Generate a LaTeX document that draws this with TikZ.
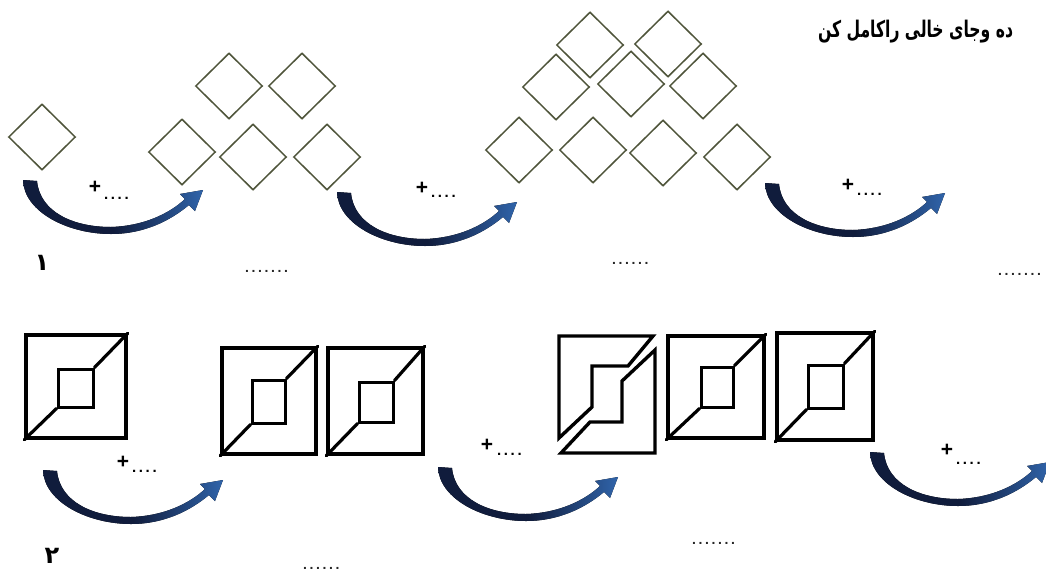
\documentclass[tikz,border=0pt]{standalone}
\usepackage{fontspec}
\setmainfont{Liberation Sans}
\newfontfamily\arabicfont[Script=Arabic]{DejaVu Sans}
\TeXXeTstate=1
\usetikzlibrary{shapes.geometric}
\definecolor{diacol}{RGB}{78,84,58}
\definecolor{navy}{RGB}{16,28,60}
\definecolor{arrblue}{RGB}{48,100,170}
\begin{document}
\begin{tikzpicture}[x=1pt,y=-1pt,
  dia/.style={draw=diacol, line width=1.5pt, shape=diamond, minimum width=67pt, minimum height=66pt, inner sep=0pt},
  osq/.style={draw=black, line width=3.6pt, rectangle, inner sep=0pt},
  isq/.style={draw=black, line width=3pt, rectangle, inner sep=0pt},
  diag/.style={line width=3.2pt, line cap=round},
  piece/.style={draw=black, line width=3.4pt, line join=miter},
  plus/.style={font=\bfseries\fontsize{21}{21}\selectfont, inner sep=0pt},
  dotlab/.style={font=\bfseries\fontsize{15}{15}\selectfont, inner sep=0pt, anchor=base west},
  blank/.style={font=\bfseries\fontsize{14}{14}\selectfont, text=black!85, inner sep=0pt, anchor=base west},
  num/.style={font=\arabicfont\bfseries\fontsize{24}{24}\selectfont, inner sep=0pt},
  carrow/.pic={
    \fill[left color=navy, right color=arrblue, middle color=navy]
      (0,0) .. controls (1,32) and (45,54) .. (88,54)
      .. controls (122,54) and (148,40) .. (166,25)
      -- (172,31) -- (180,10) -- (157,14) -- (162,19)
      .. controls (146,34) and (120,46) .. (88,47)
      .. controls (50,47) and (17,32) .. (14,1) -- cycle;
  }
]
\useasboundingbox (0,0) rectangle (1046,573);
\fill[white] (0,0) rectangle (1046,573);

% title
\node[inner sep=0pt] (title) at (915.5,32) {\resizebox*{195pt}{23pt}{\arabicfont\bfseries\beginR ده وجای خالی راکامل کن\endR}};

% ---------- row 1 : diamonds ----------
\node[dia] (d1a) at (42,137) {};

\node[dia] (d2a) at (182,152) {};
\node[dia] (d2b) at (253,157) {};
\node[dia] (d2c) at (327,157) {};
\node[dia] (d2d) at (229,86) {};
\node[dia] (d2e) at (302,86) {};

\node[dia] (d3a) at (519,150) {};
\node[dia] (d3b) at (593,150) {};
\node[dia] (d3c) at (663,153) {};
\node[dia] (d3d) at (737,157) {};
\node[dia] (d3e) at (556,87) {};
\node[dia] (d3f) at (631,84) {};
\node[dia] (d3g) at (703,86) {};
\node[dia] (d3h) at (590,45) {};
\node[dia] (d3i) at (668,44) {};

% arrows row 1
\pic at (23,180) {carrow};
\pic at (337,192) {carrow};
\pic at (765,183) {carrow};

% labels row 1
\node[plus] (p1) at (95,187) {+};
\node[dotlab] (q1) at (104,199) {.\kern2.6pt.\kern2.6pt.\kern2.6pt.};
\node[plus] (p2) at (422,188) {+};
\node[dotlab] (q2) at (431,197) {.\kern2.6pt.\kern2.6pt.\kern2.6pt.};
\node[plus] (p3) at (848,185) {+};
\node[dotlab] (q3) at (857,195) {.\kern2.6pt.\kern2.6pt.\kern2.6pt.};

\node[num] (n1) at (42,263) {۱};
\node[blank] (b1) at (245,272) {.\kern2.6pt.\kern2.6pt.\kern2.6pt.\kern2.6pt.\kern2.6pt.\kern2.6pt.};
\node[blank] (b2) at (612,264) {.\kern2.6pt.\kern2.6pt.\kern2.6pt.\kern2.6pt.\kern2.6pt.};
\node[blank] (b3) at (998,275) {.\kern2.6pt.\kern2.6pt.\kern2.6pt.\kern2.6pt.\kern2.6pt.\kern2.6pt.};

% ---------- row 2 : squares ----------
\node[osq, minimum width=100pt, minimum height=103pt] (s1) at (76,386.5) {};
\node[isq, minimum width=35pt, minimum height=38pt] (i1) at (75.5,388) {};
\draw[diag] (s1.south west) -- (i1.south west);
\draw[diag] (i1.north east) -- (s1.north east);

\node[osq, minimum width=94pt, minimum height=106pt] (s2) at (269,401) {};
\node[isq, minimum width=33pt, minimum height=43pt] (i2) at (268.5,401.5) {};
\draw[diag] (s2.south west) -- (i2.south west);
\draw[diag] (i2.north east) -- (s2.north east);

\node[osq, minimum width=95pt, minimum height=106pt] (s3) at (375.5,401) {};
\node[isq, minimum width=34pt, minimum height=40pt] (i3) at (376,402) {};
\draw[diag] (s3.south west) -- (i3.south west);
\draw[diag] (i3.north east) -- (s3.north east);

% split square
\draw[piece] (559,438) -- (559,336) -- (653,336) -- (628,366) -- (592,366) -- (592,407) -- cycle;
\draw[piece] (655,350) -- (655,453) -- (561,453) -- (590,422) -- (622,422) -- (622,381) -- cycle;

\node[osq, minimum width=96pt, minimum height=102pt] (s5) at (716,387) {};
\node[isq, minimum width=32pt, minimum height=40pt] (i5) at (717,387) {};
\draw[diag] (s5.south west) -- (i5.south west);
\draw[diag] (i5.north east) -- (s5.north east);

\node[osq, minimum width=96pt, minimum height=107pt] (s6) at (825,386.5) {};
\node[isq, minimum width=35pt, minimum height=43pt] (i6) at (825.5,386.5) {};
\draw[diag] (s6.south west) -- (i6.south west);
\draw[diag] (i6.north east) -- (s6.north east);

% arrows row 2
\pic at (43,470) {carrow};
\pic at (438,467) {carrow};
\pic at (870,452) {carrow};

% labels row 2
\node[plus] (p4) at (123,462) {+};
\node[dotlab] (q4) at (132,472) {.\kern2.6pt.\kern2.6pt.\kern2.6pt.};
\node[plus] (p5) at (487,445) {+};
\node[dotlab] (q5) at (497,455) {.\kern2.6pt.\kern2.6pt.\kern2.6pt.};
\node[plus] (p6) at (947,450) {+};
\node[dotlab] (q6) at (956,464) {.\kern2.6pt.\kern2.6pt.\kern2.6pt.};

\node[num] (n2) at (52,556) {۲};
\node[blank] (b4) at (303,569) {.\kern2.6pt.\kern2.6pt.\kern2.6pt.\kern2.6pt.\kern2.6pt.};
\node[blank] (b5) at (692,544) {.\kern2.6pt.\kern2.6pt.\kern2.6pt.\kern2.6pt.\kern2.6pt.\kern2.6pt.};
\end{tikzpicture}
\end{document}
